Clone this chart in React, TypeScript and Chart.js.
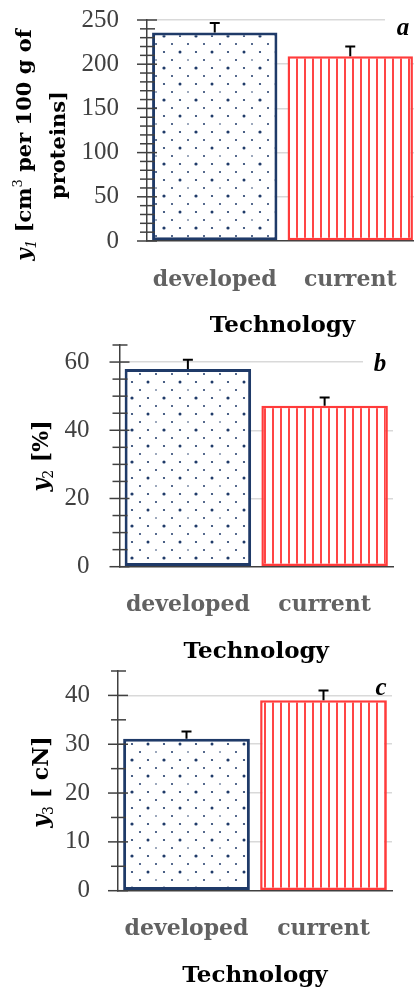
import React, { useEffect, useRef } from 'react';
import { Chart, registerables } from 'chart.js';

Chart.register(...registerables);

// ---------- data ----------
const categories = ['developed', 'current'];
const y1Values = [236, 209];
const y1Errors = [10.5, 11];
const y2Values = [58, 47.2];
const y2Errors = [2.7, 2.4];
const y3Values = [31.1, 39];
const y3Errors = [1.5, 2];
const panelLetters = ['a', 'b', 'c'];
const xTitle = 'Technology';

type Seg = { text: string; font: string; dy?: number };

const SERIF = '"DejaVu Serif"';
const B = (px: number) => `bold ${px}px ${SERIF}`;
const BI = (px: number) => `italic bold ${px}px ${SERIF}`;

function makeDotPattern(ctx: CanvasRenderingContext2D) {
  const t = document.createElement('canvas');
  t.width = 32; t.height = 32;
  const c = t.getContext('2d')!;
  c.fillStyle = '#ffffff';
  c.fillRect(0, 0, 32, 32);
  c.fillStyle = '#1F3A68';
  const dots = [
    [4, 4, 1.6], [20, 4, 1.1],
    [12, 12, 1.0], [28, 12, 1.0],
    [4, 20, 1.1], [20, 20, 1.5],
    [12, 28, 1.0], [28, 28, 0.8],
  ];
  dots.forEach(([x, y, r]) => { c.beginPath(); c.arc(x, y, r, 0, Math.PI * 2); c.fill(); });
  return ctx.createPattern(t, 'repeat');
}

function makeStripePattern(ctx: CanvasRenderingContext2D) {
  const t = document.createElement('canvas');
  t.width = 8; t.height = 8;
  const c = t.getContext('2d')!;
  c.fillStyle = '#ffffff';
  c.fillRect(0, 0, 8, 8);
  c.fillStyle = '#FF4545';
  c.fillRect(0, 0, 2, 8);
  return ctx.createPattern(t, 'repeat');
}

function drawRich(ctx: CanvasRenderingContext2D, segs: Seg[], cx: number, baseline: number) {
  let w = 0;
  const widths = segs.map((s) => { ctx.font = s.font; const ww = ctx.measureText(s.text).width; w += ww; return ww; });
  let xx = cx - w / 2;
  ctx.textAlign = 'left';
  ctx.textBaseline = 'alphabetic';
  segs.forEach((s, i) => { ctx.font = s.font; ctx.fillText(s.text, xx, baseline + (s.dy || 0)); xx += widths[i]; });
}

const decorPlugin = {
  id: 'decor',
  afterDatasetsDraw(chart: any, _args: any, opts: any) {
    const ctx: CanvasRenderingContext2D = chart.ctx;
    const ys = chart.scales.y;
    const ca = chart.chartArea;
    ctx.save();
    // error bars
    ctx.strokeStyle = '#000';
    ctx.lineWidth = 2;
    const meta = chart.getDatasetMeta(0);
    meta.data.forEach((el: any, i: number) => {
      const top = ys.getPixelForValue(opts.values[i] + opts.errors[i]);
      ctx.beginPath();
      ctx.moveTo(el.x, el.y);
      ctx.lineTo(el.x, top);
      ctx.moveTo(el.x - 5, top);
      ctx.lineTo(el.x + 5, top);
      ctx.stroke();
    });
    // cross tick marks
    ctx.strokeStyle = '#404040';
    ctx.lineWidth = 1.5;
    ys.ticks.forEach((t: any) => {
      const py = ys.getPixelForValue(t.value);
      const major = t.value % opts.major === 0;
      ctx.beginPath();
      ctx.moveTo(ca.left - (major ? 10 : 7), py);
      ctx.lineTo(ca.left + (major ? 10 : 8), py);
      ctx.stroke();
    });
    ctx.restore();
  },
  afterDraw(chart: any, _args: any, opts: any) {
    const ctx: CanvasRenderingContext2D = chart.ctx;
    const ca = chart.chartArea;
    ctx.save();
    // x title
    ctx.fillStyle = '#000';
    ctx.font = B(23);
    ctx.textAlign = 'center';
    ctx.textBaseline = 'alphabetic';
    ctx.fillText(xTitle, (ca.left + ca.right) / 2, ca.bottom + 91);
    // y title
    opts.yTitle.forEach((line: Seg[], i: number) => {
      ctx.save();
      ctx.translate(opts.yTitleX[i], opts.yTitleCY);
      ctx.rotate(-Math.PI / 2);
      ctx.fillStyle = '#000';
      drawRich(ctx, line, 0, 0);
      ctx.restore();
    });
    // panel letter
    if (opts.letterBox) {
      const [bx, by, bw, bh] = opts.letterBox;
      ctx.fillStyle = '#fff';
      ctx.fillRect(bx, by, bw, bh);
    }
    ctx.fillStyle = '#000';
    ctx.font = `italic bold 25px "Liberation Serif"`;
    ctx.textAlign = 'center';
    ctx.fillText(opts.letter, opts.letterX, opts.letterY);
    ctx.restore();
  },
};

type PanelCfg = {
  values: number[]; errors: number[]; max: number; minor: number; major: number;
  top: number; W: number; H: number; L: number; R: number; T: number; Bt: number;
  tickPad: number; letter: string; letterX: number; letterY: number; letterBox?: number[];
  yTitle: Seg[][]; yTitleX: number[]; yTitleCY: number;
};

const panels: PanelCfg[] = [
  {
    values: y1Values, errors: y1Errors, max: 250, minor: 10, major: 50,
    top: 0, W: 418, H: 345, L: 147, R: 418, T: 20, Bt: 241, tickPad: 28,
    letter: panelLetters[0], letterX: 403, letterY: 35, letterBox: [385, 8, 33, 32],
    yTitle: [
      [
        { text: 'y', font: BI(21) },
        { text: '1', font: `italic 14px ${SERIF}`, dy: 5 },
        { text: ' [cm', font: B(21) },
        { text: '3', font: `13px ${SERIF}`, dy: -9 },
        { text: ' per 100 g of', font: B(21) },
      ],
      [{ text: 'proteins]', font: B(21) }],
    ],
    yTitleX: [31, 65], yTitleCY: 145,
  },
  {
    values: y2Values, errors: y2Errors, max: 65, minor: 5, major: 20,
    top: 330, W: 414, H: 340, L: 119.5, R: 393, T: 15, Bt: 236.7, tickPad: 30,
    letter: panelLetters[1], letterX: 380, letterY: 41, letterBox: [363, 22, 30, 22],
    yTitle: [[
      { text: 'y', font: BI(22) },
      { text: '2', font: `14px ${SERIF}`, dy: 5 },
      { text: ' [%]', font: B(22) },
    ]],
    yTitleX: [48], yTitleCY: 126,
  },
  {
    values: y3Values, errors: y3Errors, max: 45, minor: 5, major: 10,
    top: 660, W: 414, H: 330, L: 118, R: 392, T: 11, Bt: 230.7, tickPad: 28,
    letter: panelLetters[2], letterX: 381, letterY: 35,
    yTitle: [[
      { text: 'y', font: BI(22) },
      { text: '3', font: `14px ${SERIF}`, dy: 5 },
      { text: ' [ cN]', font: B(22) },
    ]],
    yTitleX: [48], yTitleCY: 122,
  },
];

function Panel({ cfg }: { cfg: PanelCfg }) {
  const ref = useRef<HTMLCanvasElement>(null);
  useEffect(() => {
    const canvas = ref.current!;
    const ctx = canvas.getContext('2d')!;
    const dots = makeDotPattern(ctx);
    const stripes = makeStripePattern(ctx);
    const chart = new Chart(canvas, {
      type: 'bar',
      data: {
        labels: categories,
        datasets: [{
          data: cfg.values,
          backgroundColor: [dots as any, stripes as any],
          borderColor: ['#1F3A68', '#FF3B3B'],
          borderWidth: [3, 2.5],
          borderSkipped: false,
          barPercentage: 0.925,
          categoryPercentage: 1,
        }],
      },
      options: {
        responsive: false,
        maintainAspectRatio: false,
        animation: false,
        devicePixelRatio: 1,
        layout: { padding: { left: 0, top: cfg.T, right: cfg.W - cfg.R, bottom: 0 } },
        plugins: {
          legend: { display: false },
          tooltip: { enabled: false },
          decor: {
            values: cfg.values, errors: cfg.errors, major: cfg.major,
            letter: cfg.letter, letterX: cfg.letterX, letterY: cfg.letterY, letterBox: cfg.letterBox,
            yTitle: cfg.yTitle, yTitleX: cfg.yTitleX, yTitleCY: cfg.yTitleCY,
          },
        } as any,
        scales: {
          x: {
            grid: { display: false, drawTicks: false },
            border: { display: true, color: '#404040', width: 1.5 },
            ticks: {
              color: '#626262',
              padding: 28,
              font: { family: 'DejaVu Serif', size: 22, weight: 'bold', lineHeight: 1 },
            },
            afterFit: (s: any) => { s.height = cfg.H - cfg.Bt; s.paddingLeft = 0; s.paddingRight = 0; },
          },
          y: {
            min: 0,
            max: cfg.max,
            grid: {
              drawTicks: false,
              lineWidth: 1.5,
              color: (c: any) => (c.tick && c.tick.value > 0 && c.tick.value % cfg.major === 0 ? '#d9d9d9' : 'rgba(0,0,0,0)'),
            },
            border: { display: true, color: '#404040', width: 1.5 },
            ticks: {
              stepSize: cfg.minor,
              autoSkip: false,
              padding: cfg.tickPad,
              color: '#404040',
              font: { family: 'Liberation Serif', size: 25, lineHeight: 1 },
              callback: (v: any) => (Number(v) % cfg.major === 0 ? String(v) : ''),
            },
            afterFit: (s: any) => { s.width = cfg.L; s.paddingTop = 0; s.paddingBottom = 0; },
          },
        },
      } as any,
      plugins: [decorPlugin as any],
    });
    return () => chart.destroy();
  }, [cfg]);
  return (
    <div style={{ position: 'absolute', left: 0, top: cfg.top, width: cfg.W, height: cfg.H }}>
      <canvas ref={ref} width={cfg.W} height={cfg.H} style={{ width: cfg.W, height: cfg.H, display: 'block' }} />
    </div>
  );
}

export default function App() {
  return (
    <div style={{ position: 'absolute', left: 0, top: 0, width: 414, height: 990, overflow: 'hidden', background: '#fff' }}>
      {panels.map((p, i) => <Panel key={i} cfg={p} />)}
    </div>
  );
}
